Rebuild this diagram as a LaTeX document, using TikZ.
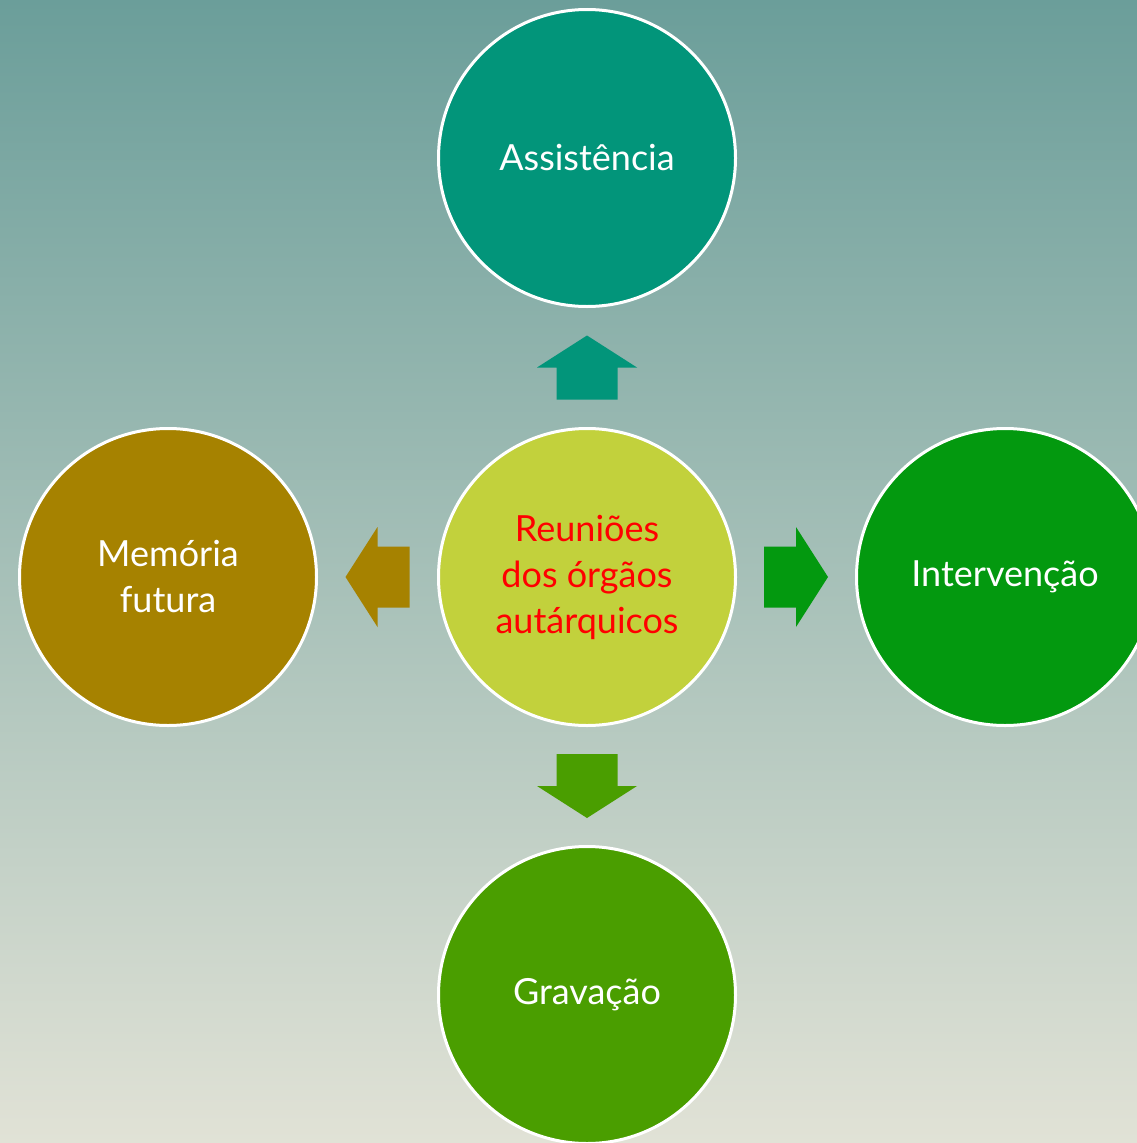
\documentclass[tikz,border=0pt]{standalone}
\usepackage{fontspec}
\newfontfamily\bubblefont{Lato}
\usetikzlibrary{calc}
\definecolor{bgtop}{HTML}{6B9E9A}
\definecolor{bgbot}{HTML}{E1E2D6}
\definecolor{cAssist}{HTML}{02957A}
\definecolor{cCentre}{HTML}{C2D13C}
\definecolor{cMemoria}{HTML}{A68200}
\definecolor{cInterv}{HTML}{03990F}
\definecolor{cGravacao}{HTML}{4A9E00}
\definecolor{cRed}{HTML}{FF0000}
\begin{document}
\begin{tikzpicture} [x=1pt, y=-1pt,
        bubble/.style={circle,draw=white,line width=3pt,minimum size=297pt,inner sep=0pt,
            text=white,align=center,font=\bubblefont\fontsize{36}{46}\selectfont}]
    \useasboundingbox (0,0) rectangle (1137,1143);
    \clip (0,0) rectangle (1137,1143);
    \shade[top color=bgtop, bottom color=bgbot] (0,0) rectangle (1137,1143);
    \node[bubble,fill=cCentre,text=cRed] (ctr) at (587,577) {Reuniões\\dos órgãos\\autárquicos};
    \node[bubble,fill=cAssist] (assist) at (587,158) {Assistência};
    \node[bubble,fill=cMemoria] (mem) at (168,577) {Memória\\futura};
    \node[bubble,fill=cInterv] (interv) at (1005,577) {Intervenção};
    \node[bubble,fill=cGravacao] (grav) at (587,995) {Gravação};
    % block arrows from the centre
    \foreach \to/\ang/\col in {assist/90/cAssist, mem/180/cMemoria, interv/0/cInterv, grav/270/cGravacao}
        \fill[\col, shift={($(ctr)!0.5!(\to)$)}, rotate=\ang]
            (-32,-30.5) -- (0,-30.5) -- (0,-50) -- (32,0) -- (0,50) -- (0,30.5) -- (-32,30.5) -- cycle;
\end{tikzpicture}
\end{document}
